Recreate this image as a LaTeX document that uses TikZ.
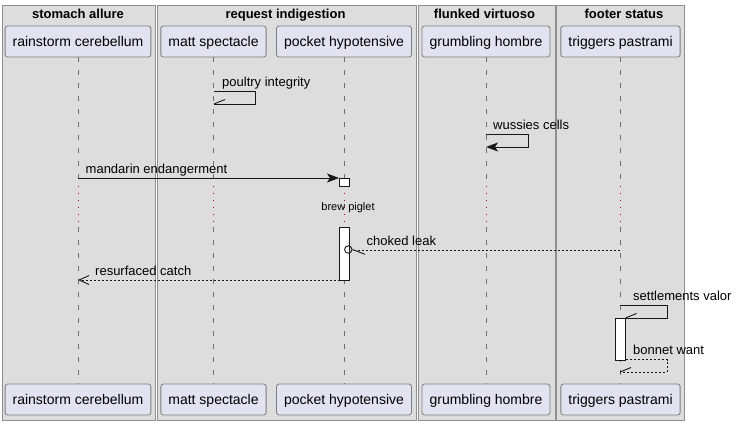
\documentclass[tikz,border=0pt]{standalone}
\usepackage{fontspec}
\setmainfont{Liberation Sans}
\usetikzlibrary{arrows.meta}
\definecolor{framefill}{HTML}{DDDDDD}
\definecolor{framedraw}{HTML}{8F8F8F}
\definecolor{partfill}{HTML}{E2E2F0}
\definecolor{partdraw}{HTML}{7E7E7E}
\definecolor{lifegray}{HTML}{707070}
\definecolor{delayred}{HTML}{A80036}
\definecolor{ink}{HTML}{181818}
\begin{document}
\begin{tikzpicture}[x=1pt,y=-1pt,
  grp/.style={draw=framedraw,fill=framefill,line width=0.9pt},
  gtitle/.style={font=\fontsize{13}{15}\selectfont\bfseries,anchor=base,inner sep=0pt},
  part/.style={rectangle,rounded corners=2.5pt,draw=partdraw,fill=partfill,line width=0.8pt,
    font=\fontsize{14}{16}\selectfont,minimum height=31pt,inner xsep=7.5pt,
    text height=10pt,text depth=0pt},
  life/.style={draw=lifegray,line width=0.8pt,dash pattern=on 4.5pt off 8.5pt},
  delayln/.style={draw=delayred,line width=1pt,dash pattern=on 1.2pt off 5.8pt},
  msg/.style={draw=ink,line width=0.9pt},
  ret/.style={msg,dash pattern=on 2pt off 2pt},
  lbl/.style={font=\fontsize{13}{15}\selectfont,anchor=base west,inner sep=0pt},
  act/.style={draw=ink,fill=white,line width=0.9pt},
  filled/.style={-{Stealth[length=12pt,width=9pt,inset=3pt]}},
  openarr/.style={-{Straight Barb[length=10pt,width=9pt,line width=0.9pt]}}
]
\useasboundingbox (0,0) rectangle (736,425);
\fill[white] (0,0) rectangle (736,425);

% group frames
\draw[grp] (2,5) rectangle (155.5,420);
\draw[grp] (157,5) rectangle (416.5,420);
\draw[grp] (418,5) rectangle (555,420);
\draw[grp] (556.5,5) rectangle (684,420);
\node[gtitle] (g1) at (78,18.5) {stomach allure};
\node[gtitle] (g2) at (285.5,18.5) {request indigestion};
\node[gtitle] (g3) at (484.5,18.5) {flunked virtuoso};
\node[gtitle] (g4) at (624,18.5) {footer status};

% participants
\node[part] (rc-top) at (78,41.5) {rainstorm cerebellum};
\node[part] (ms-top) at (213.5,41.5) {matt spectacle};
\node[part] (ph-top) at (344,41.5) {pocket hypotensive};
\node[part] (gh-top) at (486,41.5) {grumbling hombre};
\node[part] (tp-top) at (620.5,41.5) {triggers pastrami};
\node[part] (rc-bot) at (78,399.5) {rainstorm cerebellum};
\node[part] (ms-bot) at (213.5,399.5) {matt spectacle};
\node[part] (ph-bot) at (344,399.5) {pocket hypotensive};
\node[part] (gh-bot) at (486,399.5) {grumbling hombre};
\node[part] (tp-bot) at (620.5,399.5) {triggers pastrami};

% lifelines with delay section
\foreach \n in {rc,ms,ph,gh,tp}{
  \coordinate (\n-d1) at (\n-top.south |- 0,185.5);
  \coordinate (\n-d2) at (\n-top.south |- 0,227);
  \draw[life] (\n-top.south) -- (\n-d1);
  \draw[delayln] (\n-d1) -- (\n-d2);
  \draw[life] (\n-d2) -- (\n-bot.north);
}

% activations
\draw[act] (339.5,178) rectangle (349.5,186.5);
\draw[act] (339.5,227) rectangle (349.5,280);
\draw[act] (615.5,318) rectangle (625.5,360);

% poultry integrity (self)
\coordinate (pi1) at (214,91);
\coordinate (pi2) at (255.5,91);
\coordinate (pi3) at (255.5,104);
\coordinate (pi4) at (214,104);
\draw[msg] (pi1) -- (pi2) -- (pi3) -- (pi4);
\draw[msg] (pi4) -- ++(11,-4.5);
\node[lbl] (pil) at (222,86.5) {poultry integrity};

% wussies cells (self)
\coordinate (wc1) at (486,134);
\coordinate (wc2) at (528,134);
\coordinate (wc3) at (528,147);
\coordinate (wc4) at (486,147);
\draw[msg,filled] (wc1) -- (wc2) -- (wc3) -- (wc4);
\node[lbl] (wcl) at (493,129.5) {wussies cells};

% mandarin endangerment
\coordinate (me1) at (78,178);
\coordinate (me2) at (339,178);
\draw[msg,filled] (me1) -- (me2);
\node[lbl] (mel) at (85.5,173.5) {mandarin endangerment};

% brew piglet delay label
\node[font=\fontsize{11}{13}\selectfont,anchor=base,inner sep=0pt] (bp) at (348,210) {brew piglet};

% choked leak
\coordinate (cl1) at (620,250);
\coordinate (cl2) at (352,250);
\draw[ret] (cl1) -- (cl2);
\node[draw=ink,line width=0.9pt,circle,minimum size=7.4pt,inner sep=0pt] (clc) at (348.3,249.5) {};
\draw[msg] (clc.east) -- ++(12.5,4.8);
\node[lbl] (cll) at (366.5,245) {choked leak};

% resurfaced catch
\coordinate (rs1) at (339.5,280);
\coordinate (rs2) at (78,280);
\draw[ret,openarr] (rs1) -- (rs2);
\node[lbl] (rsl) at (95,275.5) {resurfaced catch};

% settlements valor (self, to activation)
\coordinate (sv1) at (620,305.5);
\coordinate (sv2) at (667,305.5);
\coordinate (sv3) at (667,318);
\coordinate (sv4) at (625.5,318);
\draw[msg] (sv1) -- (sv2) -- (sv3) -- (sv4);
\draw[msg] (sv4) -- ++(11,-4.5);
\node[lbl] (svl) at (633,300.5) {settlements valor};

% bonnet want (dashed self return)
\coordinate (bw1) at (625.5,359.5);
\coordinate (bw2) at (667,359.5);
\coordinate (bw3) at (667,372);
\coordinate (bw4) at (620,372);
\draw[ret] (bw1) -- (bw2) -- (bw3) -- (bw4);
\draw[msg] (bw4) -- ++(11,-4.5);
\node[lbl] (bwl) at (633,354.5) {bonnet want};
\end{tikzpicture}
\end{document}
